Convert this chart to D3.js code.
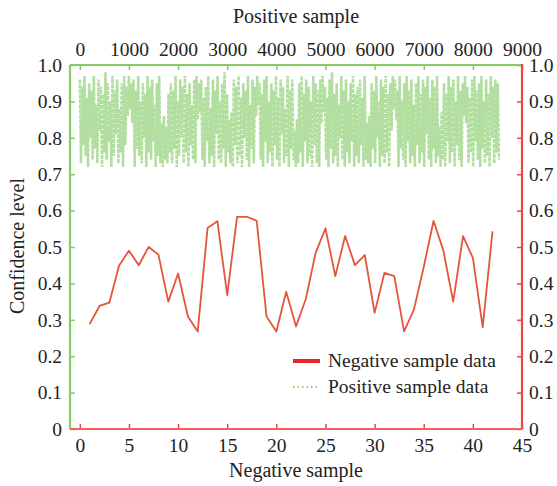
<!DOCTYPE html>
<html><head><meta charset="utf-8">
<script src="https://cdn.jsdelivr.net/npm/d3@7/dist/d3.min.js"></script>
<style>body{margin:0;background:#fff}svg{display:block}text{font-family:"Liberation Serif","Times New Roman",serif;fill:#222}</style>
</head><body><svg id="c" width="557" height="486"></svg>
<script>
// ---- data ----
const bottomTicks = [0,5,10,15,20,25,30,35,40,45];
const topTicks = [0,1000,2000,3000,4000,5000,6000,7000,8000,9000];
const yTicks = [0,0.1,0.2,0.3,0.4,0.5,0.6,0.7,0.8,0.9,1.0];
const negativeSample = [1,2,3,4,5,6,7,8,9,10,11,12,13,14,15,16,17,18,19,20,21,22,23,24,25,26,27,28,29,30,31,32,33,34,35,36,37,38,39,40,41,42];
const negativeValues = [0.288,0.338,0.347,0.449,0.490,0.450,0.500,0.479,0.350,0.427,0.309,0.268,0.552,0.571,0.368,0.583,0.583,0.572,0.309,0.268,0.377,0.282,0.357,0.484,0.551,0.420,0.530,0.450,0.478,0.319,0.429,0.420,0.268,0.328,0.445,0.572,0.490,0.350,0.530,0.470,0.279,0.543];
const positiveLastSample = 8530;
const positiveValues = [
.96,.73,.94,.78,.97,.75,.91,.72,.95,.80,.93,.74,.97,.77,.89,.73,.96,.82,.94,.72,
.92,.76,.98,.74,.95,.79,.90,.72,.97,.75,.93,.81,.96,.73,.88,.76,.95,.72,.97,.78,
.94,.86,.97,.88,.95,.84,.96,.72,.93,.77,.97,.75,.90,.73,.95,.80,.92,.72,.97,.76,
.94,.74,.96,.79,.89,.72,.95,.75,.97,.73,.84,.72,.86,.74,.83,.73,.92,.76,.95,.73,
.93,.77,.97,.72,.90,.75,.96,.80,.94,.73,.97,.76,.92,.72,.95,.78,.89,.74,.96,.73,
.97,.85,.95,.87,.96,.74,.91,.72,.94,.79,.97,.73,.88,.75,.96,.72,.93,.81,.97,.74,
.90,.73,.95,.77,.98,.72,.92,.76,.85,.73,.87,.72,.96,.78,.94,.73,.97,.75,.91,.72,
.95,.80,.93,.74,.97,.72,.89,.77,.96,.73,.94,.86,.97,.89,.95,.74,.92,.72,.96,.79,
.97,.73,.90,.76,.95,.72,.93,.78,.97,.74,.91,.72,.96,.81,.94,.73,.88,.75,.97,.72,
.93,.77,.96,.74,.82,.72,.85,.73,.95,.76,.97,.72,.92,.79,.96,.73,.94,.75,.90,.72,
.97,.78,.95,.73,.93,.72,.96,.84,.97,.87,.94,.74,.91,.72,.96,.77,.98,.73,.92,.75,
.95,.72,.89,.80,.97,.74,.93,.72,.96,.76,.90,.73,.95,.79,.97,.72,.92,.75,.94,.73,
.96,.78,.91,.72,.97,.74,.84,.73,.86,.72,.95,.77,.93,.73,.97,.80,.90,.72,.96,.75,
.94,.73,.97,.76,.92,.72,.95,.82,.97,.88,.96,.85,.93,.72,.97,.77,.90,.74,.95,.72,
.97,.79,.93,.73,.96,.75,.89,.72,.95,.78,.97,.73,.92,.76,.96,.72,.94,.81,.97,.74,
.91,.72,.96,.77,.94,.73,.97,.75,.83,.72,.87,.74,.95,.72,.92,.79,.97,.73,.94,.76,
.96,.72,.90,.78,.97,.74,.93,.72,.95,.86,.97,.84,.94,.73,.91,.76,.96,.72,.97,.79,
.93,.74,.95,.72,.97,.77,.90,.73,.96,.75,.92,.72,.97,.80,.94,.73,.96,.76,.95,.74
];
const legendLabels = ["Negative sample data","Positive sample data"];

// ---- layout ----
const W=557,H=486, L=70, R=522, T=65, B=429;
const green="#86cc66", red="#ee4646", lineRed="#e4553c";
const FS="19.5px";
const svg=d3.select("#c");
const xB=d3.scaleLinear().domain([-1,45]).range([L,R]);
const xT=d3.scaleLinear().domain([-200,9000]).range([L,R]);
const y=d3.scaleLinear().domain([0,1]).range([B,T]);
const fmtY=d=>d===0?"0":d3.format(".1f")(d);

// positive data (green dotted)
const step=positiveLastSample/(positiveValues.length-1);
const posLine=d3.line().x((d,i)=>xT(i*step)).y(d=>y(d));
svg.append("path").attr("d",posLine(positiveValues)).attr("fill","none")
  .attr("stroke","#66c040").attr("stroke-width",2.6).attr("stroke-opacity",0.5)
  .attr("stroke-dasharray","4,1");

// negative data (red line)
const negLine=d3.line().x((d,i)=>xB(negativeSample[i])).y(d=>y(d));
svg.append("path").attr("d",negLine(negativeValues)).attr("fill","none")
  .attr("stroke",lineRed).attr("stroke-width",1.8).attr("stroke-linejoin","round");

// axes
function styleAxis(g,color){
  g.attr("font-family",null).attr("font-size",null);
  g.select(".domain").remove();
  g.selectAll(".tick line").attr("stroke",color).attr("stroke-width",1.5);
  g.selectAll(".tick text").style("font-size",FS).attr("fill","#222");
}
svg.append("g").attr("transform",`translate(0,${B})`)
  .call(d3.axisBottom(xB).tickValues(bottomTicks).tickSize(-5).tickPadding(9).tickSizeOuter(0))
  .call(g=>styleAxis(g,red));
svg.append("g").attr("transform",`translate(0,${T})`)
  .call(d3.axisTop(xT).tickValues(topTicks).tickFormat(d3.format("d")).tickSize(-5).tickPadding(9).tickSizeOuter(0))
  .call(g=>styleAxis(g,green));
svg.append("g").attr("transform",`translate(${L},0)`)
  .call(d3.axisLeft(y).tickValues(yTicks).tickFormat(fmtY).tickSize(-5).tickPadding(8).tickSizeOuter(0))
  .call(g=>styleAxis(g,green));
svg.append("g").attr("transform",`translate(${R},0)`)
  .call(d3.axisRight(y).tickValues(yTicks).tickFormat(fmtY).tickSize(-5).tickPadding(7).tickSizeOuter(0))
  .call(g=>styleAxis(g,red));

// frame lines
svg.append("line").attr("x1",L).attr("x2",R).attr("y1",T).attr("y2",T).attr("stroke",green).attr("stroke-width",2.2);
svg.append("line").attr("x1",L).attr("x2",L).attr("y1",T).attr("y2",B).attr("stroke",green).attr("stroke-width",2.2);
svg.append("line").attr("x1",L).attr("x2",R).attr("y1",B).attr("y2",B).attr("stroke","#f06060").attr("stroke-width",2.2);
svg.append("line").attr("x1",R).attr("x2",R).attr("y1",T-1).attr("y2",B).attr("stroke",red).attr("stroke-width",2.2);

// titles
svg.append("text").attr("x",296).attr("y",23).attr("text-anchor","middle").style("font-size","20px").text("Positive sample");
svg.append("text").attr("x",296).attr("y",477).attr("text-anchor","middle").style("font-size","20px").text("Negative sample");
svg.append("text").attr("transform","translate(24,246) rotate(-90)").attr("text-anchor","middle").style("font-size","20px").text("Confidence level");

// legend
const lg=svg.append("g");
lg.append("line").attr("x1",293).attr("x2",320).attr("y1",361).attr("y2",361).attr("stroke","#e8262b").attr("stroke-width",4);
lg.append("line").attr("x1",293).attr("x2",320).attr("y1",387).attr("y2",387).attr("stroke","#6cc24a").attr("stroke-width",1.5).attr("stroke-dasharray","1.5,3");
lg.selectAll("text.l").data(legendLabels).join("text").attr("class","l")
  .attr("x",328).attr("y",(d,i)=>367+i*26).style("font-size","19.5px").text(d=>d);
</script></body></html>
